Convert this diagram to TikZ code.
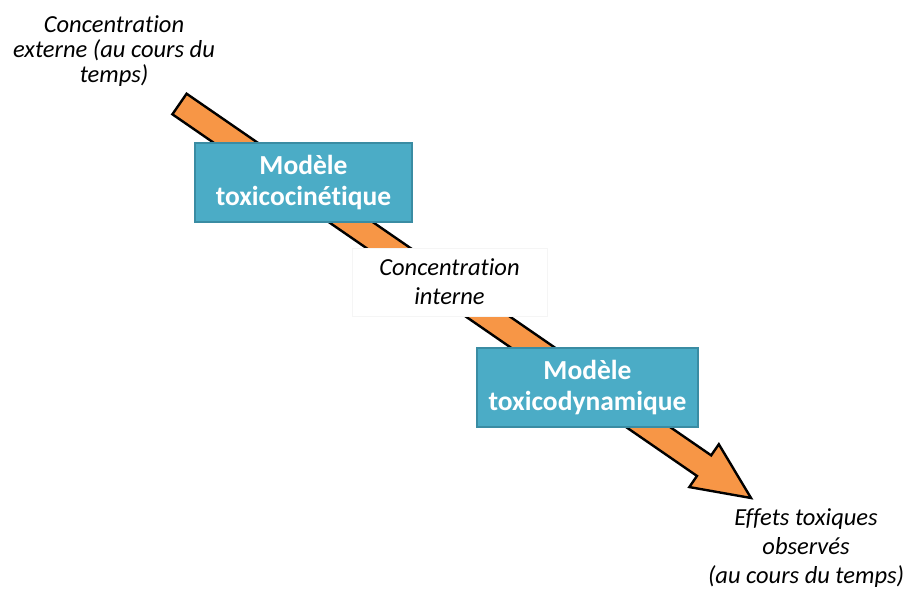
\documentclass[tikz,border=0pt]{standalone}
\usepackage{fontspec}
\setmainfont{Carlito}[RawFeature={-liga}]
\usetikzlibrary{calc}
\definecolor{flecheorange}{HTML}{F79646}
\definecolor{modelefond}{HTML}{4BACC6}
\definecolor{modelebord}{HTML}{3A8CA3}

\begin{document}
\begin{tikzpicture}[
    x = 1pt, y = -1pt,
    modele/.style={rectangle, draw=modelebord, line width=1.2pt, fill=modelefond,
        text=white, font=\fontsize{27.5}{31}\selectfont\bfseries, align=center,
        minimum height=79pt, inner sep=0pt},
    legende/.style={font=\fontsize{24.5}{25}\selectfont\itshape, align=center, inner sep=0pt},
    fleche/.style={draw=black, line width=2.4pt, fill=flecheorange, line join=miter}
]
    \useasboundingbox (0,0) rectangle (911,597);

    \coordinate (queue) at (179.5,104);
    \coordinate (pointe) at (751,498);
    \coordinate (base) at ($(pointe)!57pt!(queue)$);

    % grosse fleche orange
    \draw[fleche]
        ($(queue)!12.5pt!90:(pointe)$) -- ($(base)!12.5pt!-90:(queue)$)
        -- ($(base)!26pt!-90:(queue)$) -- (pointe)
        -- ($(base)!26pt!90:(queue)$) -- ($(base)!12.5pt!90:(queue)$)
        -- ($(queue)!12.5pt!-90:(pointe)$) -- cycle;

    \node[legende] (externe) at (114,51) {Concentration\\externe (au cours du\\temps)};
    \node[modele, minimum width=217pt] (cinetique) at (303.5,182.5) {Modèle\\toxicocinétique};
    \node[legende, fill=white, draw=black!4, line width=0.6pt, minimum width=195pt,
        minimum height=68pt, font=\fontsize{24.5}{29}\selectfont\itshape] (interne) at (449.5,282)
        {Concentration\\interne};
    \node[modele, minimum width=221pt] (dynamique) at (587.5,387.5) {Modèle\\toxicodynamique};
    \node[legende, font=\fontsize{24.5}{29}\selectfont\itshape] (effets) at (806,548)
        {Effets toxiques\\observés\\(au cours du temps)};
\end{tikzpicture}
\end{document}
